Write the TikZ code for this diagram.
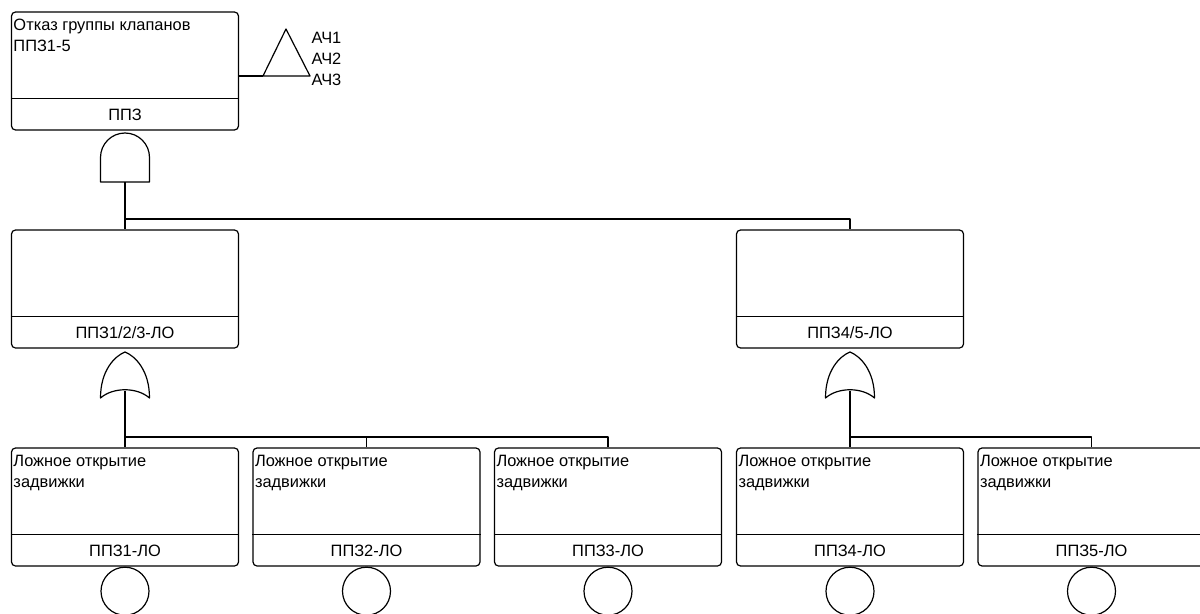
\documentclass[tikz,border=0pt]{standalone}
\usepackage{fontspec}
\setmainfont{Liberation Sans}
\usetikzlibrary{calc}
\tikzset{
  evbox/.style={draw, rounded corners=3pt, minimum width=170.25pt, minimum height=88.5pt, inner sep=0pt},
  desc/.style={anchor=north west, align=left, inner sep=0pt, font=\fontsize{12.3pt}{16pt}\selectfont, text depth=0pt},
  lbl/.style={inner sep=0pt, font=\fontsize{12.3pt}{15pt}\selectfont},
  basic/.style={draw, circle, minimum size=36pt, inner sep=0pt, line width=0.9pt},
}
\newcommand{\evt}[4]{%
  \node[evbox] (#1) at (#2,#3) {};
  \draw ($(#1.south west)+(0,-32)$) -- ($(#1.south east)+(0,-32)$);
  \node[lbl] (#1-lbl) at ($(#1.south)+(0,-16)$) {#4};
}
\newcommand{\orgate}[2]{%
  \draw ($(#1,398)+(-24.5,0)$) .. controls ($(#1,370)+(-24.5,0)$) and ($(#1,356)+(-10,0)$) .. (#1,352)
     .. controls ($(#1,356)+(10,0)$) and ($(#1,370)+(24.5,0)$) .. ($(#1,398)+(24.5,0)$)
     .. controls ($(#1,387)+(12,0)$) and ($(#1,387)+(-12,0)$) .. ($(#1,398)+(-24.5,0)$) -- cycle;
  \coordinate (#2-out) at (#1,391);
}
\begin{document}
\begin{tikzpicture}[x=0.75pt, y=-0.75pt, line width=0.9pt, line join=round]
\useasboundingbox (0,0) rectangle (1200,614);
% ---------- event boxes ----------
\evt{top}{125}{71}{ППЗ}
\node[desc] (top-txt) at ($(top.north west)+(2,7)$) {Отказ группы клапанов\\ППЗ1-5};
\evt{m1}{125}{289}{ППЗ1/2/3-ЛО}
\evt{m2}{850}{289}{ППЗ4/5-ЛО}
\evt{b1}{125}{507}{ППЗ1-ЛО}
\evt{b2}{366.5}{507}{ППЗ2-ЛО}
\evt{b3}{608}{507}{ППЗ3-ЛО}
\evt{b4}{850}{507}{ППЗ4-ЛО}
\evt{b5}{1091.5}{507}{ППЗ5-ЛО}
\foreach \b in {b1,b2,b3,b4,b5}{
  \node[desc] (\b-txt) at ($(\b.north west)+(2,7)$) {Ложное открытие\\задвижки};
  \node[basic, anchor=north] (\b-c) at (\b.south) {};
}
% ---------- transfer triangle ----------
\coordinate (trL) at (263,76);
\coordinate (trR) at (310,76);
\coordinate (trA) at (286,29);
\draw (trL) -- (trA) -- (trR) -- cycle;
\draw (top.east |- trL) -- (trL);
\node[lbl, anchor=base west] (a1) at (311,43) {АЧ1};
\node[lbl, anchor=base west] (a2) at (311,64) {АЧ2};
\node[lbl, anchor=base west] (a3) at (311,85) {АЧ3};
% ---------- AND gate ----------
\coordinate (and-out) at (125,182);
\draw (100.5,182) -- (100.5,157.5) arc[start angle=180, end angle=360, radius=24.5] -- (149.5,182) -- cycle;
\coordinate (bus1) at (125,219);
\draw (and-out) -- (bus1) -- (m1.north);
\draw (bus1) -| (m2.north);
% ---------- OR gates ----------
\orgate{125}{or1}
\orgate{850}{or2}
\coordinate (bus2) at (125,437);
\coordinate (bus3) at (850,437);
\draw (or1-out) -- (bus2) -- (b1.north);
\draw (bus2) -| (b2.north);
\draw (bus2) -| (b3.north);
\draw (or2-out) -- (bus3) -- (b4.north);
\draw (bus3) -| (b5.north);
\end{tikzpicture}
\end{document}
